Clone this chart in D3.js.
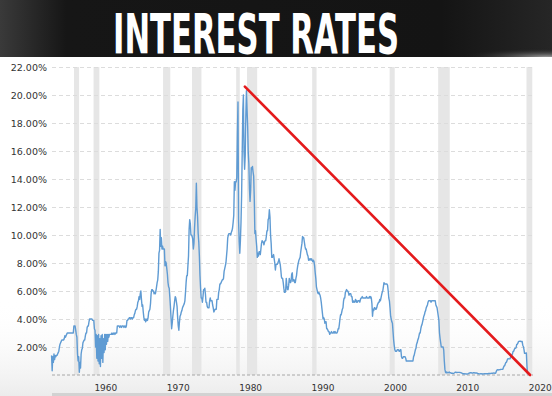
<!DOCTYPE html>
<html>
<head>
<meta charset="utf-8">
<script src="https://cdn.jsdelivr.net/npm/d3@7"></script>
<style>
  html, body { margin: 0; padding: 0; background: #fff; }
  svg { display: block; }
</style>
</head>
<body>
<div id="chart"></div>
<script>
const WIDTH = 552;
const HEIGHT = 396;
const BANNER_HEIGHT = 57;
const PLOT = { left: 52, right: 533, top: 67, bottom: 375 };

const TITLE = "INTEREST RATES";
const TITLE_X = 113;
const TITLE_WIDTH = 286;

// monthly federal funds rate, % (null = no data that month)
const rateRows = [
  [1954, [null, null, null, null, null, null, 1.4, 0.3, 1.3, 0.9, 1.5, 1.1]],
  [1955, [1.4, 1.3, 1.4, 1.4, 1.5, 1.6, 1.7, 2.0, 2.2, 2.3, 2.4, 2.5]],
  [1956, [2.5, 2.5, 2.5, 2.6, 2.8, 2.7, 2.8, 2.9, 3.0, 3.0, 3.0, 3.0]],
  [1957, [3.0, 3.0, 3.0, 3.0, 3.0, 3.0, 3.0, 3.5, 3.5, 3.5, 3.2, 2.9]],
  [1958, [2.7, 1.5, 1.0, 1.3, 0.2, 0.9, 0.5, 1.5, 1.8, 1.9, 2.3, 2.4]],
  [1959, [2.5, 2.5, 2.8, 3.0, 3.0, 3.4, 3.5, 3.5, 3.8, 4.0, 4.0, 4.0]],
  [1960, [4.0, 4.0, 3.9, 3.9, 3.9, 3.3, 3.2, 2.0, 2.9, 1.2, 2.8, 1.0]],
  [1961, [2.9, 0.8, 2.6, 0.6, 2.8, 1.2, 2.9, 0.9, 2.6, 1.6, 2.9, 1.8]],
  [1962, [2.9, 2.2, 2.9, 2.4, 2.9, 2.7, 2.9, 2.9, 2.9, 2.9, 3.0, 2.9]],
  [1963, [2.9, 3.0, 3.0, 2.9, 3.0, 3.0, 3.0, 3.5, 3.5, 3.5, 3.5, 3.4]],
  [1964, [3.5, 3.5, 3.4, 3.5, 3.5, 3.5, 3.4, 3.5, 3.5, 3.4, 3.5, 3.9]],
  [1965, [3.9, 4.0, 4.0, 4.1, 4.1, 4.0, 4.1, 4.1, 4.0, 4.1, 4.1, 4.3]],
  [1966, [4.4, 4.6, 4.7, 4.7, 4.9, 5.2, 5.3, 5.6, 5.4, 5.8, 6.0, 5.4]],
  [1967, [4.9, 5.0, 4.5, 4.1, 3.9, 4.0, 3.8, 3.9, 4.0, 3.9, 4.1, 4.5]],
  [1968, [4.6, 4.7, 5.1, 5.8, 6.1, 6.1, 6.0, 6.0, 5.8, 5.9, 5.8, 6.0]],
  [1969, [6.3, 6.6, 6.8, 7.4, 8.7, 8.9, 10.4, 9.2, 9.8, 9.0, 9.2, 9.0]],
  [1970, [9.0, 9.0, 7.8, 8.1, 8.0, 7.6, 7.2, 6.6, 6.3, 6.2, 5.6, 4.9]],
  [1971, [4.1, 3.3, 3.7, 4.2, 4.6, 4.9, 5.3, 5.6, 5.5, 5.2, 4.9, 4.1]],
  [1972, [3.5, 3.2, 3.8, 4.2, 4.3, 4.5, 4.6, 4.8, 4.9, 5.0, 5.1, 5.3]],
  [1973, [5.9, 6.6, 7.1, 7.1, 7.8, 8.5, 10.4, 11.1, 10.8, 10.0, 10.0, 9.9]],
  [1974, [9.7, 9.0, 9.4, 10.5, 11.3, 11.9, 13.7, 12.0, 11.3, 10.1, 9.5, 8.5]],
  [1975, [7.1, 6.2, 5.5, 5.5, 5.2, 5.6, 6.1, 6.1, 6.2, 5.8, 5.2, 5.2]],
  [1976, [4.9, 4.8, 4.8, 4.8, 5.3, 5.5, 5.3, 5.3, 5.3, 5.0, 4.8, 4.5]],
  [1977, [4.6, 4.7, 4.7, 4.7, 5.4, 5.4, 5.4, 5.9, 6.1, 6.5, 6.5, 6.6]],
  [1978, [6.7, 6.8, 6.8, 6.9, 7.4, 7.6, 7.8, 8.0, 8.5, 9.0, 9.8, 10.0]],
  [1979, [10.1, 10.1, 10.1, 10.0, 10.2, 10.3, 10.5, 10.9, 11.4, 13.8, 13.2, 13.8]],
  [1980, [13.8, 14.1, 17.2, 19.5, 11.0, 9.5, 8.7, 9.6, 10.9, 12.8, 15.9, 18.9]],
  [1981, [20.0, 15.9, 14.7, 15.7, 18.5, 20.3, 19.0, 17.8, 15.9, 15.1, 13.3, 12.4]],
  [1982, [13.2, 14.8, 14.7, 14.9, 14.5, 14.2, 12.6, 10.1, 10.3, 9.7, 9.2, 8.4]],
  [1983, [8.7, 8.5, 8.8, 8.8, 8.6, 9.0, 9.4, 9.6, 9.5, 9.5, 9.3, 9.5]],
  [1984, [9.6, 9.6, 9.9, 10.3, 10.3, 11.1, 11.2, 11.8, 11.3, 10.0, 9.4, 8.4]],
  [1985, [8.4, 8.5, 8.6, 8.3, 8.0, 7.5, 7.9, 7.9, 7.9, 8.0, 8.1, 8.3]],
  [1986, [8.1, 7.9, 7.5, 7.0, 6.9, 6.9, 6.6, 6.2, 5.9, 5.9, 6.0, 6.9]],
  [1987, [6.4, 6.1, 6.1, 6.4, 6.9, 6.7, 6.6, 6.7, 7.2, 7.3, 6.7, 6.8]],
  [1988, [6.8, 6.6, 6.6, 6.9, 7.1, 7.5, 7.8, 8.0, 8.2, 8.3, 8.4, 8.8]],
  [1989, [9.1, 9.4, 9.9, 9.8, 9.8, 9.5, 9.2, 9.0, 9.0, 8.8, 8.6, 8.5]],
  [1990, [8.2, 8.2, 8.3, 8.3, 8.2, 8.3, 8.2, 8.1, 8.2, 8.1, 7.8, 7.3]],
  [1991, [6.9, 6.3, 6.1, 5.9, 5.8, 5.9, 5.8, 5.7, 5.5, 5.2, 4.8, 4.4]],
  [1992, [4.0, 4.1, 4.0, 3.7, 3.8, 3.8, 3.3, 3.3, 3.2, 3.1, 3.1, 2.9]],
  [1993, [3.0, 3.0, 3.1, 3.0, 3.0, 3.0, 3.1, 3.0, 3.1, 3.0, 3.0, 3.0]],
  [1994, [3.1, 3.3, 3.3, 3.6, 4.0, 4.3, 4.3, 4.5, 4.7, 4.8, 5.3, 5.5]],
  [1995, [5.5, 5.9, 6.0, 6.1, 6.0, 6.0, 5.9, 5.7, 5.8, 5.8, 5.8, 5.6]],
  [1996, [5.6, 5.2, 5.3, 5.2, 5.2, 5.3, 5.4, 5.2, 5.3, 5.2, 5.3, 5.3]],
  [1997, [5.3, 5.2, 5.4, 5.5, 5.5, 5.6, 5.5, 5.5, 5.5, 5.5, 5.5, 5.5]],
  [1998, [5.6, 5.5, 5.5, 5.5, 5.5, 5.6, 5.5, 5.6, 5.5, 5.1, 4.2, 4.7]],
  [1999, [4.6, 4.8, 4.8, 4.7, 4.7, 4.8, 5.0, 5.1, 5.2, 5.2, 5.4, 5.3]],
  [2000, [5.5, 5.7, 5.9, 6.0, 6.3, 6.6, 6.5, 6.5, 6.5, 6.5, 6.5, 6.4]],
  [2001, [6.0, 5.5, 5.3, 4.8, 4.2, 4.0, 3.8, 3.7, 3.1, 2.5, 2.1, 1.8]],
  [2002, [1.7, 1.7, 1.7, 1.8, 1.8, 1.8, 1.7, 1.7, 1.8, 1.8, 1.3, 1.2]],
  [2003, [1.2, 1.3, 1.3, 1.3, 1.3, 1.2, 1.0, 1.0, 1.0, 1.0, 1.0, 1.0]],
  [2004, [1.0, 1.0, 1.0, 1.0, 1.0, 1.0, 1.3, 1.4, 1.6, 1.8, 1.9, 2.2]],
  [2005, [2.3, 2.5, 2.6, 2.8, 3.0, 3.0, 3.3, 3.5, 3.6, 3.8, 4.0, 4.2]],
  [2006, [4.3, 4.5, 4.6, 4.8, 4.9, 5.0, 5.2, 5.3, 5.3, 5.3, 5.3, 5.2]],
  [2007, [5.3, 5.3, 5.3, 5.3, 5.3, 5.3, 5.3, 5.0, 4.9, 4.8, 4.5, 4.2]],
  [2008, [3.9, 3.0, 2.6, 2.3, 2.0, 2.0, 2.0, 2.0, 1.8, 1.0, 0.4, 0.2]],
  [2009, [0.15, 0.22, 0.18, 0.15, 0.18, 0.21, 0.16, 0.16, 0.15, 0.12, 0.12, 0.12]],
  [2010, [0.11, 0.13, 0.16, 0.2, 0.2, 0.18, 0.18, 0.19, 0.19, 0.19, 0.19, 0.18]],
  [2011, [0.17, 0.16, 0.14, 0.1, 0.09, 0.09, 0.07, 0.1, 0.08, 0.07, 0.08, 0.07]],
  [2012, [0.08, 0.1, 0.13, 0.14, 0.16, 0.16, 0.16, 0.13, 0.14, 0.16, 0.16, 0.16]],
  [2013, [0.14, 0.15, 0.14, 0.15, 0.11, 0.09, 0.09, 0.08, 0.08, 0.09, 0.08, 0.09]],
  [2014, [0.07, 0.07, 0.08, 0.09, 0.09, 0.1, 0.09, 0.09, 0.09, 0.09, 0.09, 0.12]],
  [2015, [0.11, 0.11, 0.11, 0.12, 0.12, 0.13, 0.13, 0.14, 0.14, 0.12, 0.12, 0.24]],
  [2016, [0.34, 0.38, 0.36, 0.37, 0.37, 0.38, 0.39, 0.4, 0.4, 0.4, 0.41, 0.54]],
  [2017, [0.65, 0.66, 0.79, 0.9, 0.91, 1.04, 1.15, 1.16, 1.15, 1.15, 1.16, 1.3]],
  [2018, [1.41, 1.42, 1.51, 1.69, 1.7, 1.82, 1.91, 1.91, 1.95, 2.19, 2.2, 2.27]],
  [2019, [2.4, 2.4, 2.41, 2.42, 2.39, 2.38, 2.4, 2.13, 2.04, 1.83, 1.55, 1.55]],
  [2020, [1.55, 1.58, 0.65, 0.05]],
];

// recession shading, [start, end] in decimal years
const recessions = [
  [1957.6, 1958.3], [1960.3, 1961.1], [1969.9, 1970.9], [1973.9, 1975.2],
  [1980.0, 1980.5], [1981.5, 1982.9], [1990.5, 1991.1], [2001.2, 2001.9],
  [2007.9, 2009.5], [2020.1, 2020.9],
];

const yTicks = [2, 4, 6, 8, 10, 12, 14, 16, 18, 20, 22];
const xTicks = [1960, 1970, 1980, 1990, 2000, 2010, 2020];

// the red trend line drawn over the chart
const trendLine = [
  { year: 1981.2, rate: 20.6 },
  { year: 2020.6, rate: 0 },
];

function buildSeries() {
  const out = [];
  for (const [year, months] of rateRows) {
    months.forEach((v, i) => {
      if (v !== null) out.push({ year: year + i / 12, rate: v });
    });
  }
  return out;
}

function draw() {
  const series = buildSeries();

  const svg = d3
    .select("#chart")
    .append("svg")
    .attr("width", WIDTH)
    .attr("height", HEIGHT);

  const defs = svg.append("defs");

  const bannerGlow = defs
    .append("radialGradient")
    .attr("id", "banner-glow")
    .attr("cx", 0.99)
    .attr("cy", 1.0)
    .attr("r", 0.16);
  bannerGlow.append("stop").attr("offset", "0%").attr("stop-color", "#9a9a9a");
  bannerGlow.append("stop").attr("offset", "100%").attr("stop-color", "#151515").attr("stop-opacity", 0);

  const bannerLeft = defs
    .append("linearGradient")
    .attr("id", "banner-left");
  bannerLeft.append("stop").attr("offset", "0%").attr("stop-color", "#3a3a3a");
  bannerLeft.append("stop").attr("offset", "12%").attr("stop-color", "#161616");
  bannerLeft.append("stop").attr("offset", "80%").attr("stop-color", "#141414");
  bannerLeft.append("stop").attr("offset", "100%").attr("stop-color", "#262626");

  const bottomFade = defs
    .append("linearGradient")
    .attr("id", "bottom-fade")
    .attr("x1", 0).attr("y1", 0).attr("x2", 0).attr("y2", 1);
  bottomFade.append("stop").attr("offset", "0%").attr("stop-color", "#ffffff").attr("stop-opacity", 0);
  bottomFade.append("stop").attr("offset", "100%").attr("stop-color", "#ececec").attr("stop-opacity", 1);

  // title banner
  svg.append("rect")
    .attr("width", WIDTH).attr("height", BANNER_HEIGHT)
    .attr("fill", "url(#banner-left)");
  svg.append("rect")
    .attr("width", WIDTH).attr("height", BANNER_HEIGHT)
    .attr("fill", "url(#banner-glow)");

  // title: tall condensed caps, squeezed horizontally to the reference width
  const title = svg.append("text")
    .attr("x", 0)
    .attr("y", 0)
    .attr("font-family", "'Liberation Sans Narrow', 'DejaVu Sans Condensed', sans-serif")
    .attr("font-weight", "bold")
    .attr("font-size", 56)
    .attr("fill", "#ffffff")
    .text(TITLE);
  const natural = title.node().getComputedTextLength();
  title.attr("transform", `translate(${TITLE_X}, 53) scale(${TITLE_WIDTH / natural}, 1)`);

  // faint grey fade toward the bottom of the chart area
  svg.append("rect")
    .attr("x", 0).attr("y", 300)
    .attr("width", WIDTH).attr("height", HEIGHT - 300)
    .attr("fill", "url(#bottom-fade)");
  svg.append("rect")
    .attr("x", PLOT.left).attr("y", 393)
    .attr("width", WIDTH - PLOT.left).attr("height", 3)
    .attr("fill", "#d2d2d2");

  const xScale = d3.scaleLinear()
    .domain([1954.56, 2021.0])
    .range([PLOT.left, PLOT.right]);

  const yScale = d3.scaleLinear()
    .domain([0, 22])
    .range([PLOT.bottom, PLOT.top]);

  // recession bands
  svg.append("g")
    .selectAll("rect")
    .data(recessions)
    .join("rect")
    .attr("x", (d) => xScale(d[0]))
    .attr("y", yScale(22))
    .attr("width", (d) => Math.max(2, xScale(d[1]) - xScale(d[0])))
    .attr("height", yScale(0) - yScale(22))
    .attr("fill", "#e6e6e6");

  // y axis with dashed gridlines
  const yAxis = svg.append("g")
    .attr("transform", `translate(${PLOT.left}, 0)`)
    .call(
      d3.axisLeft(yScale)
        .tickValues(yTicks)
        .tickSize(-(PLOT.right - PLOT.left))
        .tickPadding(5)
        .tickFormat((d) => d.toFixed(2) + "%")
    );
  yAxis.select(".domain").remove();
  yAxis.selectAll(".tick line")
    .attr("stroke", "#dcdcdc")
    .attr("stroke-dasharray", "4,3");
  yAxis.selectAll(".tick text")
    .attr("font-family", "'DejaVu Sans', Verdana, sans-serif")
    .attr("font-size", 9.5)
    .attr("fill", "#333");

  // dashed baseline
  svg.append("line")
    .attr("x1", PLOT.left).attr("x2", PLOT.right)
    .attr("y1", yScale(0)).attr("y2", yScale(0))
    .attr("stroke", "#a8a8a8")
    .attr("stroke-dasharray", "3,2");

  // x axis: labels start at the tick
  const xAxis = svg.append("g")
    .attr("transform", `translate(0, ${PLOT.bottom})`)
    .call(
      d3.axisBottom(xScale)
        .tickValues(xTicks)
        .tickSize(0)
        .tickPadding(10)
        .tickFormat(d3.format("d"))
    );
  xAxis.select(".domain").remove();
  xAxis.selectAll(".tick text")
    .attr("text-anchor", "start")
    .attr("dx", 2.5)
    .attr("font-family", "'DejaVu Sans', Verdana, sans-serif")
    .attr("font-size", 9)
    .attr("fill", "#333");

  // rate line
  const line = d3.line()
    .x((d) => xScale(d.year))
    .y((d) => yScale(d.rate));

  svg.append("path")
    .datum(series)
    .attr("d", line)
    .attr("fill", "none")
    .attr("stroke", "#5f9bd3")
    .attr("stroke-width", 1.4)
    .attr("stroke-linejoin", "round");

  // red trend line
  svg.append("path")
    .datum(trendLine)
    .attr("d", line)
    .attr("fill", "none")
    .attr("stroke", "#e41a1c")
    .attr("stroke-width", 2.6)
    .attr("stroke-linecap", "round");
}

draw();
</script>
</body>
</html>
